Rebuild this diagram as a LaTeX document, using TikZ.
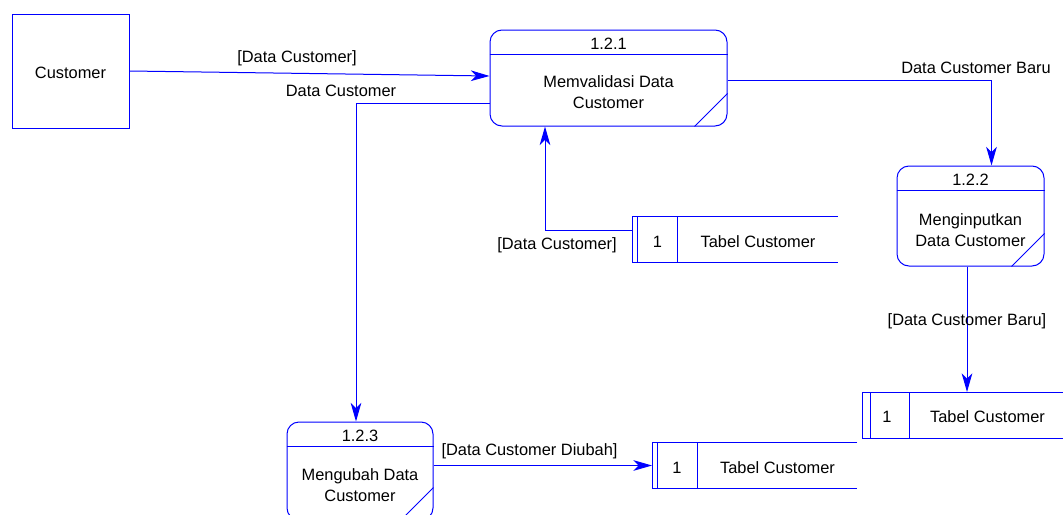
\documentclass[tikz,border=0pt]{standalone}
\usepackage{fontspec}
\setmainfont{Liberation Sans}
\usepackage{tikz}
\usetikzlibrary{arrows.meta}
\usetikzlibrary{positioning}
\usetikzlibrary{calc}
\tikzstyle{entity}=[draw=dfdblue,rectangle,inner sep=0pt]
\tikzstyle{flow}=[draw=dfdblue,-{Stealth[length=14pt,width=8pt,inset=4pt]}]
\colorlet{dfdblue}{blue}
\begin{document}
\begin{tikzpicture}[
  x=0.75pt,y=-0.75pt,
  line width=0.75pt,
  font=\fontsize{12.3}{15.75}\selectfont,
  process/.style={draw=dfdblue,rectangle,rounded corners=9pt,inner sep=0pt},
  store/.style={rectangle,inner sep=0pt,minimum width=204*0.75pt,minimum height=45*0.75pt},
  flowlabel/.style={inner sep=1pt,yshift=-1.5pt},
  txt/.style={yshift=-1.5pt},
]
\useasboundingbox (0,0) rectangle (1063,514);
  % external entity
  \node[entity,minimum width=117*0.75pt,minimum height=114*0.75pt] (cust) at (70.5,71) {};
  \node[txt] at (cust.center) {Customer};
  % processes
  \node[process,minimum width=237*0.75pt,minimum height=96*0.75pt] (p1) at (608.5,78) {};
  \node[process,minimum width=147*0.75pt,minimum height=100*0.75pt] (p2) at (970.5,216) {};
  \node[process,minimum width=146*0.75pt,minimum height=98*0.75pt] (p3) at (360,471) {};
  \foreach \p/\num/\body in {p1/1.2.1/{Memvalidasi Data\\Customer},
                            p2/1.2.2/{Menginputkan\\Data Customer},
                            p3/1.2.3/{Mengubah Data\\Customer}} {
    \draw[dfdblue] ($(\p.north west)+(0,25)$) -- ($(\p.north east)+(0,25)$);
    \draw[dfdblue] ($(\p.south east)+(-33,0)$) -- ($(\p.south east)+(0,-33)$);
    \node[txt] at ($(\p.north)+(0,12.5)$) {\num};
    \node[txt,align=center] at ($(\p.center)+(0,12)$) {\body};
  }
  % data stores
  \node[store] (ds1) at (735,239.5) {};
  \node[store] (ds2) at (754.5,465.5) {};
  \node[store] (ds3) at (964.5,415) {};
  \foreach \s/\a/\b in {ds1/5/45,ds2/5/45,ds3/8/47} {
    \draw[dfdblue] (\s.north east) -- (\s.north west) -- (\s.south west) -- (\s.south east);
    \draw[dfdblue] ($(\s.north west)+(\a,0)$) -- ($(\s.south west)+(\a,0)$);
    \draw[dfdblue] ($(\s.north west)+(\b,0)$) -- ($(\s.south west)+(\b,0)$);
    \node[txt] at ($(\s.west)+(25,0)$) {1};
    \node[txt] at ($(\s.center)+(23,0)$) {Tabel Customer};
  }
  % flows
  \draw[flow] (cust.east) -- ($(p1.west)+(0,-2)$);
  \draw[flow] ($(p1.west)+(0,25)$) -| ($(p3.north)+(-4,0)$);
  \draw[flow] ($(p1.east)+(0,2)$) -| ($(p2.north)+(21,0)$);
  \draw[flow] ($(p2.south)+(-3.5,0)$) coordinate (p2out) -- (p2out |- ds3.north);
  \draw[flow] ($(ds1.west)+(0,-9.5)$) -| ($(p1.south)+(-63.5,0)$);
  \draw[flow] (p3.east |- ds2.west) -- (ds2.west);
  % flow labels
  \node[flowlabel] (l1) at (297,56) {[Data Customer]};
  \node[flowlabel] (l2) at (341,89) {Data Customer};
  \node[flowlabel] (l3) at (976,66) {Data Customer Baru};
  \node[flowlabel] (l4) at (967,319) {[Data Customer Baru]};
  \node[flowlabel] (l5) at (557,243) {[Data Customer]};
  \node[flowlabel] (l6) at (529.5,449) {[Data Customer Diubah]};
\end{tikzpicture}
\end{document}
